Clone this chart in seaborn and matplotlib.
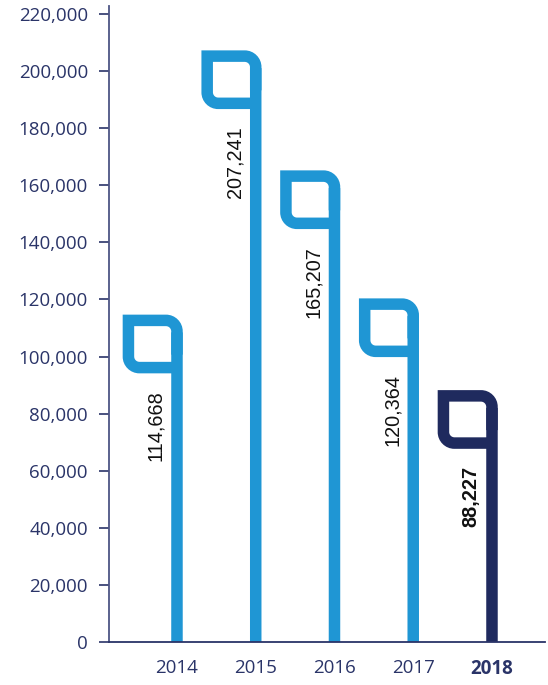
import matplotlib
matplotlib.use("Agg")
import matplotlib.pyplot as plt
import matplotlib.transforms as mtransforms
from matplotlib.path import Path
from matplotlib.patches import PathPatch
import seaborn as sns
import pandas as pd

# ---- data ----
years = ["2014", "2015", "2016", "2017", "2018"]
values = [114668, 207241, 165207, 120364, 88227]
value_labels = ["114,668", "207,241", "165,207", "120,364", "88,227"]
ytick_values = [0, 20000, 40000, 60000, 80000, 100000, 120000, 140000,
                160000, 180000, 200000, 220000]
ytick_labels = ["0", "20,000", "40,000", "60,000", "80,000", "100,000", "120,000",
                "140,000", "160,000", "180,000", "200,000", "220,000"]
highlight = "2018"

BLUE = "#1F96D4"
NAVY = "#1F2A5E"
TEXT_NAVY = "#2A3468"
colors = [NAVY if y == highlight else BLUE for y in years]

sns.set_theme(style="white")
plt.rcParams["font.family"] = ["Open Sans", "DejaVu Sans"]

DPI = 100
fig = plt.figure(figsize=(5.48, 6.85), dpi=DPI)
ax = fig.add_axes([0.1998, 0.0628, 0.7947, 0.9285])

df = pd.DataFrame({"year": years, "value": values})
sns.barplot(data=df, x="year", y="value", hue="year", palette=colors,
            width=0.146, linewidth=0, legend=False, ax=ax, saturation=1)

ax.set_xlim(-0.857, 4.673)
ax.set_ylim(0, 222800)

# flag geometry (pixels)
w = 11.5
h = w / 2
rc = 11.0
left_x = -54.3 + h
bot_y = -58.7 + h
k = 0.5523 * rc
start_y = -40.0

def px(v):
    return v / DPI

verts = [
    (0, start_y), (0, -h - rc),
    (0, -h - rc + k), (-rc + k, -h), (-rc, -h),
    (left_x, -h),
    (left_x, bot_y + rc),
    (left_x, bot_y + rc - k), (left_x + rc - k, bot_y), (left_x + rc, bot_y),
    (0, bot_y),
]
codes = [Path.MOVETO, Path.LINETO,
         Path.CURVE4, Path.CURVE4, Path.CURVE4,
         Path.LINETO, Path.LINETO,
         Path.CURVE4, Path.CURVE4, Path.CURVE4,
         Path.LINETO]
flag_path = Path([(px(a), px(b)) for a, b in verts], codes)
clip_path = Path([(px(-20), px(-3000)), (px(20), px(-3000)),
                  (px(20), px(-h - rc - 1)), (px(-20), px(-h - rc - 1)),
                  (px(-20), px(-3000))],
                 [Path.MOVETO, Path.LINETO, Path.LINETO, Path.LINETO, Path.CLOSEPOLY])

bars = [p for c in ax.containers for p in c]
for i, (yr, val, lab, col) in enumerate(zip(years, values, value_labels, colors)):
    tr = fig.dpi_scale_trans + mtransforms.ScaledTranslation(i, val, ax.transData)
    for b in bars:
        cx = b.get_x() + b.get_width() / 2
        if abs(cx - i) < 0.01:
            b.set_clip_path(clip_path, tr)
            b.set_snap(False)
    ax.add_patch(PathPatch(flag_path, transform=tr, facecolor="none", edgecolor=col,
                           linewidth=w * 72 / DPI, joinstyle="miter", capstyle="butt",
                           snap=False))
    ttr = mtransforms.offset_copy(ax.transData, fig=fig, x=-21, y=-76, units="dots")
    bold = yr == highlight
    ax.text(i, val, lab, transform=ttr, rotation=90, ha="center", va="top",
            fontsize=14.3, family=["Liberation Sans", "DejaVu Sans"],
            fontweight="bold" if bold else "normal", color="#111111")

# axes styling
for s in ["top", "right"]:
    ax.spines[s].set_visible(False)
ax.spines["left"].set_color("#4D5585")
ax.spines["left"].set_linewidth(1.3)
ax.spines["bottom"].set_color(TEXT_NAVY)
ax.spines["bottom"].set_linewidth(1.3)

ax.set_yticks(ytick_values)
ax.set_yticklabels(ytick_labels)
ax.tick_params(axis="y", which="major", left=True, length=7.5, width=1.2,
               color=TEXT_NAVY, labelcolor=TEXT_NAVY, labelsize=13.5, pad=8,
               direction="out")
ax.tick_params(axis="x", bottom=False, length=0, labelcolor=TEXT_NAVY,
               labelsize=13.5, pad=12)
for t in ax.get_xticklabels():
    if t.get_text() == highlight:
        t.set_fontweight("bold")
ax.set_xlabel("")
ax.set_ylabel("")
ax.grid(False)

fig.savefig("out.png", dpi=DPI)
